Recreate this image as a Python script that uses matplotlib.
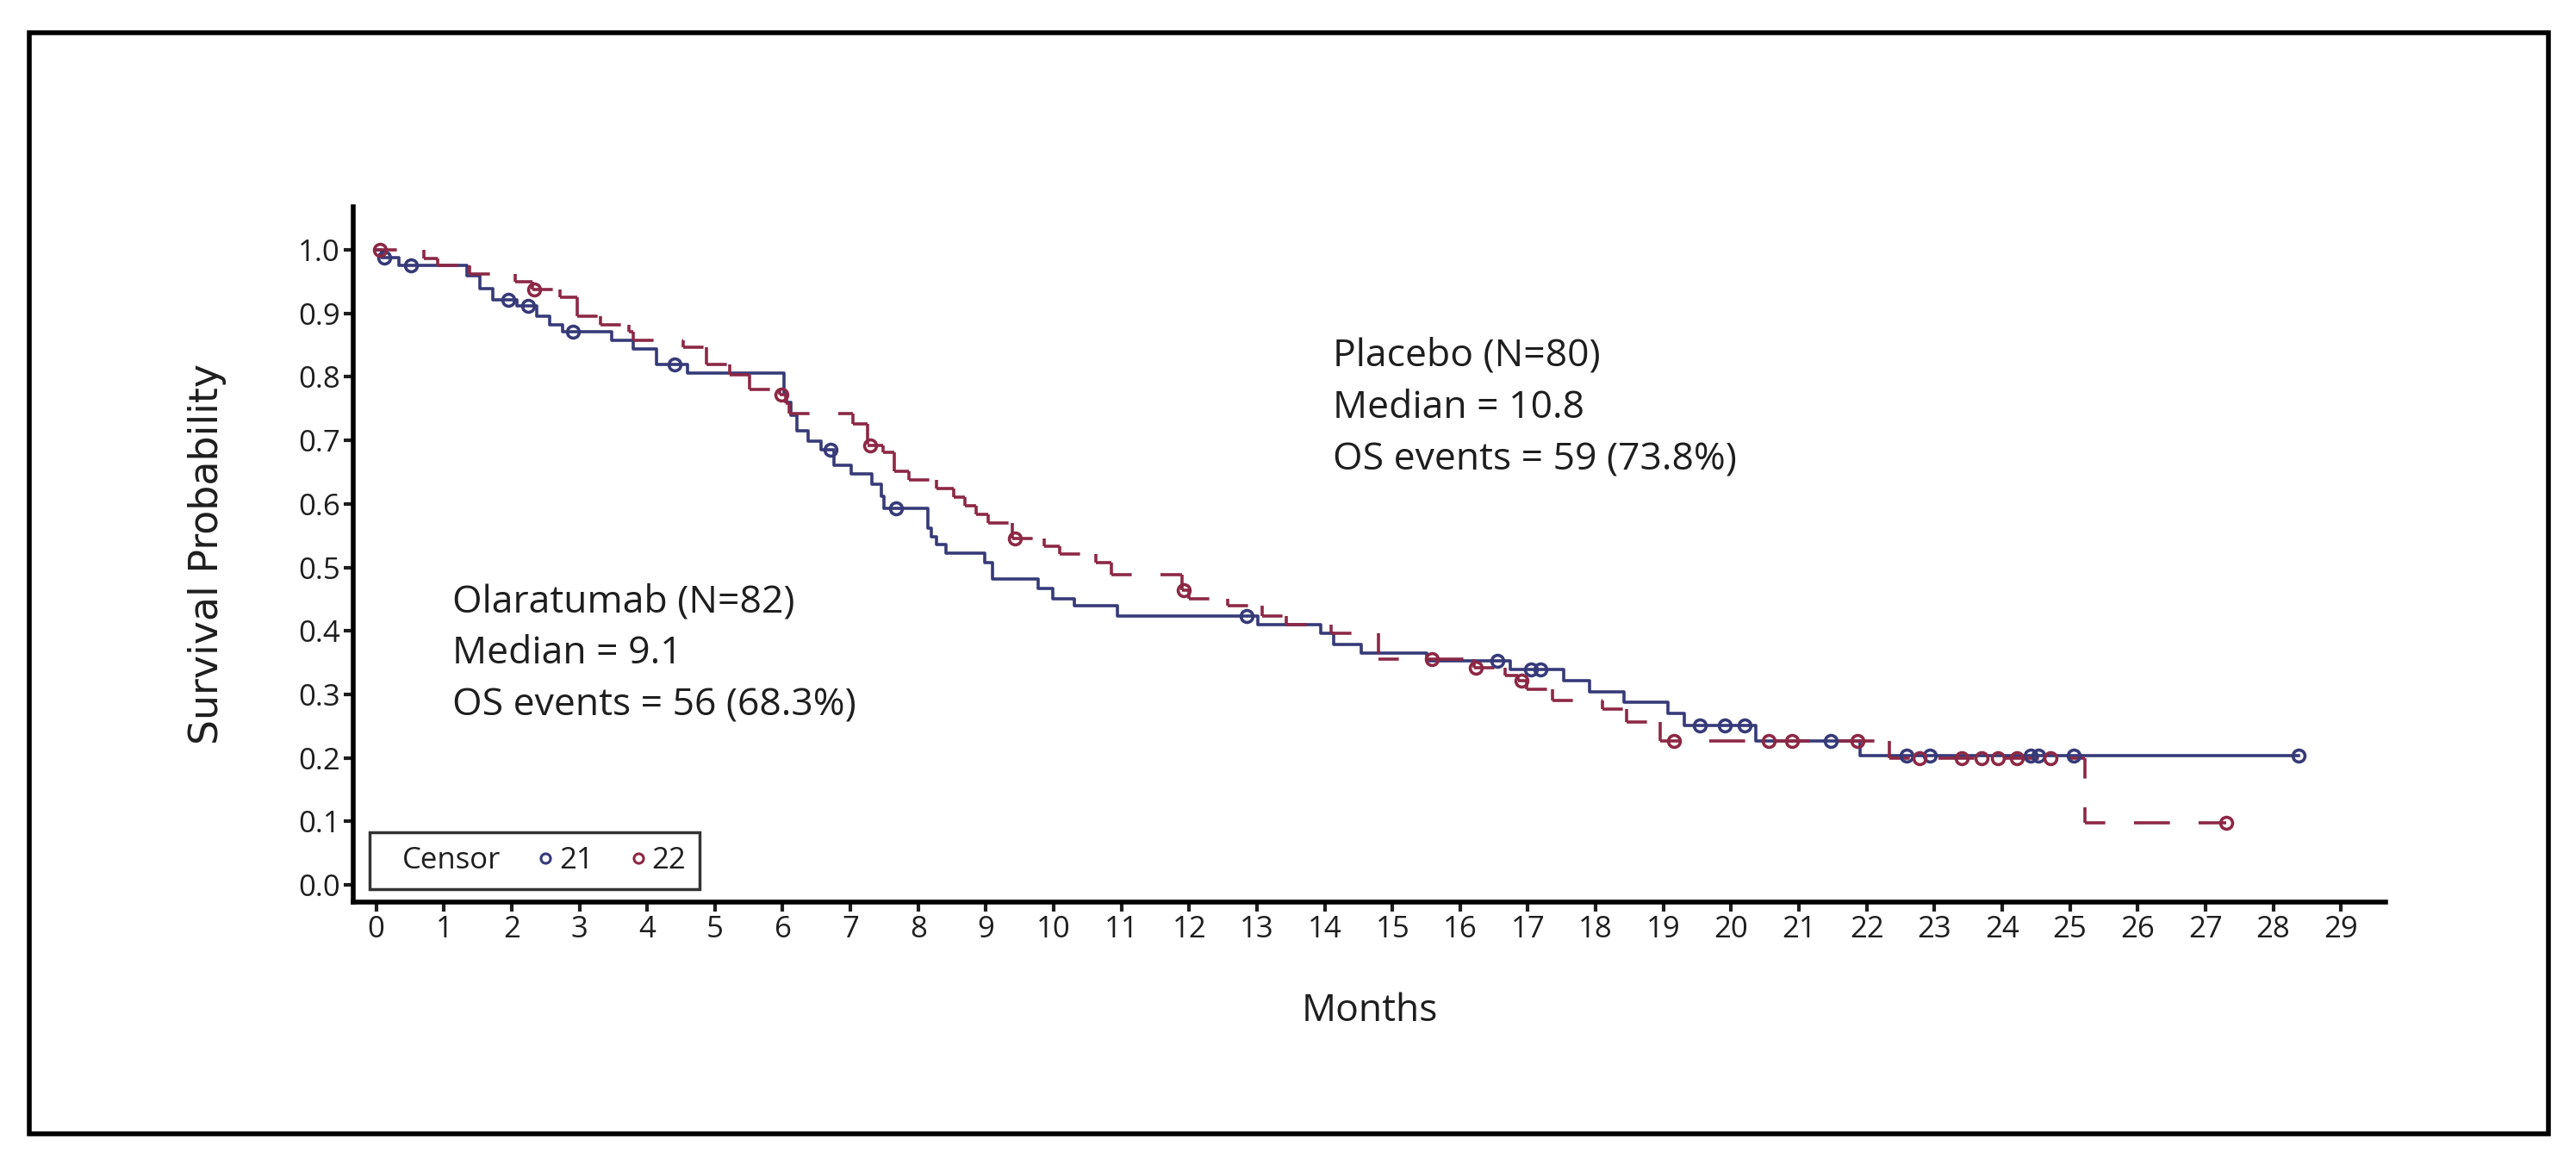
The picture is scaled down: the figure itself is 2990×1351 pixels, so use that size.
import numpy as np
import matplotlib
matplotlib.use("Agg")
import matplotlib.pyplot as plt
from matplotlib.collections import LineCollection
from matplotlib.lines import Line2D
from matplotlib.patches import Rectangle

plt.rcParams['font.family'] = ['Open Sans', 'DejaVu Sans']
plt.rcParams['lines.scale_dashes'] = False

# Olaratumab arm (blue, solid): event times / survival after each step
blue_t = [0, 0.08, 0.34, 1.34, 1.53, 1.72, 2.08, 2.37, 2.56, 2.75, 3.48, 3.8, 4.14, 4.6,
          6.02, 6.06, 6.12, 6.21, 6.38, 6.57, 6.76, 7.01, 7.31, 7.45, 7.5, 8.14, 8.2, 8.27,
          8.41, 8.98, 9.1, 9.77, 9.99, 10.3, 10.94, 13.01, 13.94, 14.13, 14.54, 15.5, 16.74,
          17.53, 17.91, 18.42, 19.07, 19.31, 20.36, 21.9]
blue_s = [1.0, 0.988, 0.976, 0.959, 0.939, 0.921, 0.912, 0.896, 0.882, 0.871, 0.858, 0.844,
          0.82, 0.806, 0.775, 0.76, 0.739, 0.715, 0.699, 0.685, 0.661, 0.647, 0.631, 0.612,
          0.593, 0.562, 0.548, 0.536, 0.522, 0.507, 0.482, 0.467, 0.45, 0.44, 0.423, 0.41,
          0.396, 0.379, 0.365, 0.353, 0.34, 0.322, 0.304, 0.288, 0.27, 0.251, 0.227, 0.204]
blue_end = 28.37
blue_cens = [0.12, 0.51, 1.95, 2.24, 2.91, 4.41, 6.7, 7.67, 12.85, 16.55, 17.04, 17.18,
             19.54, 19.9, 20.2, 21.47, 22.59, 22.93, 24.42, 24.54, 25.05, 28.37]

# Placebo arm (red, dashed)
red_t = [0, 0.7, 0.91, 1.38, 2.05, 2.3, 2.71, 2.97, 3.31, 3.73, 3.8, 4.53, 4.87, 5.22, 5.51,
         5.95, 6.05, 6.1, 7.04, 7.25, 7.48, 7.65, 7.86, 8.27, 8.52, 8.69, 8.86, 9.03, 9.39,
         9.86, 10.09, 10.62, 10.85, 11.9, 11.99, 12.57, 13.08, 13.43, 14.1, 14.8, 16.2,
         16.66, 16.85, 16.98, 17.36, 18.1, 18.46, 18.95, 22.33, 25.22]
red_s = [1.0, 0.986, 0.975, 0.962, 0.95, 0.937, 0.925, 0.896, 0.882, 0.871, 0.858, 0.847,
         0.82, 0.803, 0.78, 0.772, 0.758, 0.742, 0.726, 0.692, 0.681, 0.651, 0.638, 0.624,
         0.611, 0.597, 0.583, 0.57, 0.545, 0.534, 0.521, 0.507, 0.489, 0.464, 0.45, 0.44,
         0.423, 0.41, 0.396, 0.355, 0.342, 0.33, 0.322, 0.308, 0.29, 0.277, 0.257, 0.227,
         0.2, 0.098]
red_end = 27.31
red_cens = [0.05, 2.33, 5.98, 7.29, 9.43, 11.92, 15.58, 16.23, 16.9, 19.15, 20.55, 20.9,
            21.87, 22.78, 23.4, 23.69, 23.94, 24.22, 24.71, 27.31]

x_ticks = list(range(0, 30))
y_ticks = [0.0, 0.1, 0.2, 0.3, 0.4, 0.5, 0.6, 0.7, 0.8, 0.9, 1.0]

placebo_txt = ["Placebo (N=80)", "Median = 10.8", "OS events = 59 (73.8%)"]
olara_txt = ["Olaratumab (N=82)", "Median = 9.1", "OS events = 56 (68.3%)"]

BLUE = '#363a78'
RED = '#8c2845'
INK = '#1e1e1e'


def surv_at(t, s, times):
    idx = np.searchsorted(t, times, side='right') - 1
    return np.array(s)[idx]


fig = plt.figure(figsize=(29.9, 13.51), dpi=100)
ax = fig.add_axes([0.1371, 0.225, 0.9261 - 0.1371, 0.8224 - 0.225])

# blue solid step curve
bx = blue_t + [blue_end]
by = blue_s + [blue_s[-1]]
ax.step(bx, by, where='post', color=BLUE, lw=2.6, zorder=3)

# red dashed curve: every segment restarts the dash pattern (like the original)
rx = red_t + [red_end]
ry = red_s + [red_s[-1]]
segs = []
for i in range(len(rx) - 1):
    if i > 0:
        segs.append([(rx[i], ry[i - 1]), (rx[i], ry[i])])
    segs.append([(rx[i], ry[i]), (rx[i + 1], ry[i])])
lc = LineCollection(segs, colors=RED, linewidths=2.6,
                    linestyles=[(13, (30, 24))], zorder=3)
ax.add_collection(lc)

# censor marks
ax.plot(blue_cens, surv_at(blue_t, blue_s, blue_cens), 'o', ms=10, mfc='none',
        mec=BLUE, mew=2.6, zorder=4)
ax.plot(red_cens, surv_at(red_t, red_s, red_cens), 'o', ms=10, mfc='none',
        mec=RED, mew=2.6, zorder=4)

ax.set_xlim(-0.34, 29.66)
ax.set_ylim(-0.027, 1.068)
ax.set_xticks(x_ticks)
ax.set_yticks(y_ticks)
ax.set_yticklabels(['%.1f' % v for v in y_ticks])
ax.tick_params(axis='both', direction='out', length=8, width=3, labelsize=25,
               colors=INK, pad=3)
for sp in ['top', 'right']:
    ax.spines[sp].set_visible(False)
for sp in ['left', 'bottom']:
    ax.spines[sp].set_linewidth(4)
    ax.spines[sp].set_color('black')

ax.set_ylabel('Survival Probability', fontsize=33, color=INK, labelpad=60,
              family=['DejaVu Sans'])
ax.set_xlabel('Months', fontsize=32, color=INK, labelpad=40)

for k, line in enumerate(placebo_txt):
    ax.text(14.12, 0.817 - k * 0.0815, line, fontsize=32, color=INK, va='baseline')
for k, line in enumerate(olara_txt):
    ax.text(1.12, 0.43 - k * 0.0815, line, fontsize=32, color=INK, va='baseline')

handles = [Line2D([], [], linestyle='none', marker=None),
           Line2D([], [], linestyle='none', marker='o', ms=8, mfc='none', mec=BLUE, mew=2.2),
           Line2D([], [], linestyle='none', marker='o', ms=8, mfc='none', mec=RED, mew=2.2)]
leg = ax.legend(handles, ['Censor', '21', '22'], ncol=3, loc='lower left',
                bbox_to_anchor=(0.008, 0.019), borderaxespad=0, fontsize=25,
                frameon=True, fancybox=False, edgecolor='black', handlelength=0.4,
                handletextpad=0.25, columnspacing=1.3, borderpad=0.45)
leg.get_frame().set_linewidth(2.5)
for t in leg.get_texts():
    t.set_color(INK)

# outer frame around the whole picture
fig.patches.append(Rectangle((34 / 2990, 1 - 1316 / 1351), (2958 - 34) / 2990,
                             (1316 - 38) / 1351, transform=fig.transFigure,
                             fill=False, edgecolor='black', lw=4))

fig.savefig('out.png', dpi=100)
